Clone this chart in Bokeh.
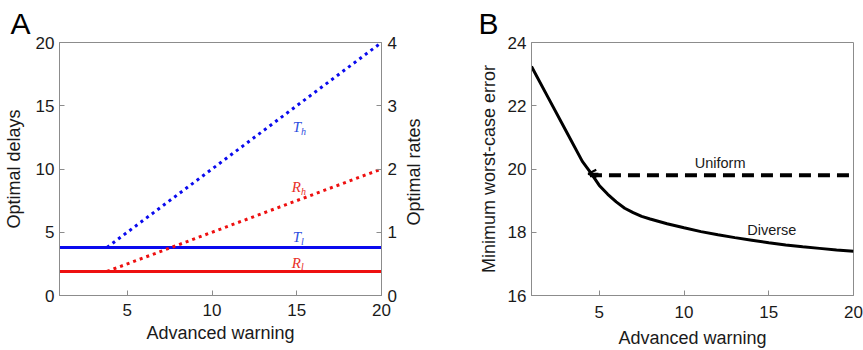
import math
from bokeh.plotting import figure
from bokeh.layouts import row
from bokeh.models import Range1d, LinearAxis, FixedTicker, Arrow, OpenHead
from bokeh.core.properties import value
from bokeh.embed import file_html
from bokeh.resources import INLINE

# ---------------- Panel A data ----------------
warn_flat = [1, 20]            # advanced warning span of flat lines
delay_low = [3.8, 3.8]         # T_l (optimal delays)
rate_low = [0.38, 0.38]        # R_l (optimal rates)
warn_high = [3.8, 20]          # advanced warning span of rising lines
delay_high = [3.8, 20]         # T_h (optimal delays)
rate_high = [0.38, 2.0]        # R_h (optimal rates)
x_ticks = [5, 10, 15, 20]
delay_ticks = [0, 5, 10, 15, 20]
rate_ticks = [0, 1, 2, 3, 4]

# label positions (advanced warning, delay units)
lab_x = [15.25, 15.25, 15.25, 15.25]
lab_y = [13.3, 8.55, 4.6, 2.6]
lab_main = ["T", "R", "T", "R"]
lab_sub = ["h", "h", "l", "l"]
lab_col = ["#2f4fe0", "#e8302a", "#2f4fe0", "#e8302a"]

# ---------------- Panel B data ----------------
warn_b = [1, 2, 3, 4, 4.5, 5, 5.5, 6, 6.5, 7, 7.5, 8, 9, 10, 11, 12, 13, 14, 15,
          16, 17, 18, 19, 20]
diverse = [23.24, 22.24, 21.24, 20.24, 19.88, 19.48, 19.2, 18.96, 18.76, 18.62,
           18.5, 18.42, 18.27, 18.14, 18.02, 17.92, 17.83, 17.75, 17.67,
           17.6, 17.54, 17.49, 17.44, 17.4]
warn_uniform = [4.45, 20]
uniform = [19.8, 19.8]
err_ticks = [16, 18, 20, 22, 24]

FONT = "Liberation Sans"
GREY = "#8c8c8c"
TXT = "#1a1a1a"


def style_axis(ax, ticks, standoff=5, label_standoff=6):
    ax.ticker = FixedTicker(ticks=ticks)
    ax.major_tick_in = 5
    ax.major_tick_out = 0
    ax.minor_tick_in = 0
    ax.minor_tick_out = 0
    ax.axis_line_color = GREY
    ax.major_tick_line_color = GREY
    ax.major_label_text_font = FONT
    ax.major_label_text_color = TXT
    ax.major_label_text_font_size = "17px"
    ax.major_label_standoff = standoff
    ax.axis_label_text_font = FONT
    ax.axis_label_text_font_size = "18px"
    ax.axis_label_text_font_style = "normal"
    ax.axis_label_text_color = TXT
    ax.axis_label_standoff = label_standoff


def base_fig(width, xr, yr, bl, br, bb, title):
    p = figure(width=width, height=350, x_range=xr, y_range=yr,
               output_backend="svg", toolbar_location=None,
               min_border_left=bl, min_border_right=br,
               min_border_top=42, min_border_bottom=bb,
               background_fill_color="white", border_fill_color="white")
    p.xgrid.visible = False
    p.ygrid.visible = False
    p.outline_line_color = GREY
    p.outline_line_width = 1
    p.title.text = title
    p.title.text_font = FONT
    p.title.text_font_size = "30px"
    p.title.text_font_style = "normal"
    p.title.text_color = "black"
    p.title.align = "left"
    p.title.standoff = 6
    return p


# ---------------- Panel A ----------------
pA = base_fig(436, Range1d(1, 20), Range1d(0, 20), 59, 54, 55, "A")
pA.title.offset = -49
pA.extra_y_ranges = {"rates": Range1d(0, 4)}

pA.xaxis.axis_label = "Advanced warning"
pA.yaxis.axis_label = "Optimal delays"
style_axis(pA.xaxis[0], x_ticks, standoff=8, label_standoff=4)
style_axis(pA.yaxis[0], delay_ticks, label_standoff=9)

# right axis title reads bottom-to-top (like the left one); it is anchored
# at the bottom end of the axis, so it is padded to sit near the middle
PAD = "\u00a0" * 14
right_ax = LinearAxis(y_range_name="rates", axis_label=PAD + "Optimal rates")
style_axis(right_ax, rate_ticks, standoff=6, label_standoff=14)
right_ax.axis_label_orientation = math.pi / 2
right_ax.axis_label_align = "start"
pA.add_layout(right_ax, "right")

BLUE = "#0a0aee"
RED = "#ee1010"
pA.line(warn_flat, delay_low, line_color=BLUE, line_width=3)
pA.line(warn_flat, rate_low, line_color=RED, line_width=3, y_range_name="rates")
pA.line(warn_high, delay_high, line_color=BLUE, line_width=3, line_dash="3 4")
pA.line(warn_high, rate_high, line_color=RED, line_width=3, line_dash="3 4",
        y_range_name="rates")

pA.text(x=lab_x, y=lab_y, text=lab_main, text_color=lab_col,
        text_font=value("Liberation Serif"), text_font_style="italic",
        text_font_size="15px", text_align="right", text_baseline="middle")
pA.text(x=lab_x, y=lab_y, text=lab_sub, text_color=lab_col,
        text_font=value("Liberation Serif"), text_font_style="italic",
        text_font_size="10px", text_align="left", text_baseline="middle",
        y_offset=4)

# ---------------- Panel B ----------------
pB = base_fig(427, Range1d(1, 20), Range1d(16, 24), 95, 10, 55, "B")
pB.title.offset = -53
pB.xaxis.axis_label = "Advanced warning"
pB.yaxis.axis_label = "Minimum worst-case error"
style_axis(pB.xaxis[0], x_ticks, standoff=10, label_standoff=7)
style_axis(pB.yaxis[0], err_ticks)

pB.line(warn_b, diverse, line_color="black", line_width=3)
pB.line(warn_uniform, uniform, line_color="black", line_width=4,
        line_dash="12 7")
pB.add_layout(Arrow(end=OpenHead(size=8, line_width=2, line_color="black"),
                    x_start=warn_uniform[0] + 0.5, y_start=uniform[0] + 0.05,
                    x_end=warn_uniform[0] - 0.1, y_end=uniform[0] + 0.05,
                    line_width=2, line_color="black"))

pB.text(x=[12.13, 15.18], y=[20.19, 18.06], text=["Uniform", "Diverse"],
        text_color=TXT, text_font=value(FONT), text_font_size="14.5px",
        text_align="center", text_baseline="middle")

layout = row(pA, pB)
open("out.html", "w").write(file_html(layout, INLINE))
